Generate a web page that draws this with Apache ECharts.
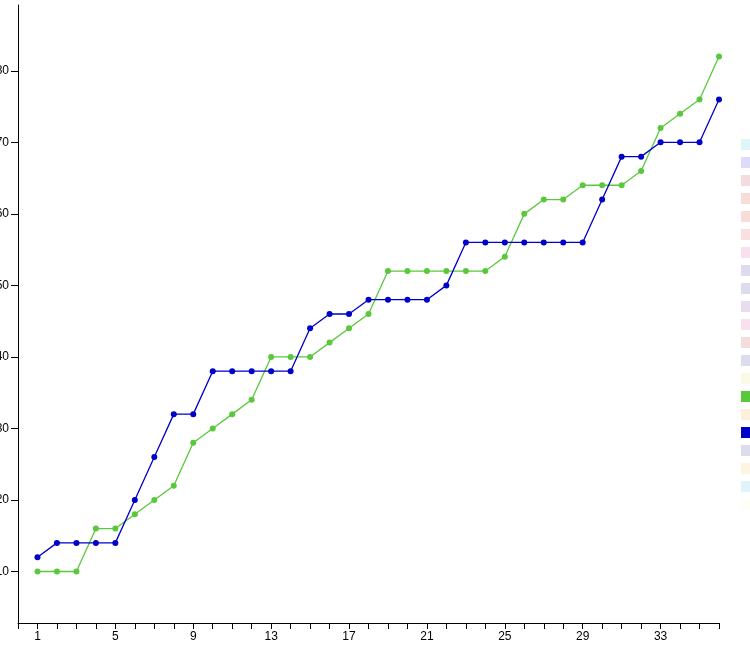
<!DOCTYPE html>
<html>
<head>
<meta charset="utf-8">
<script src="https://cdn.jsdelivr.net/npm/echarts@6/dist/echarts.min.js"></script>
<style>
html,body{margin:0;padding:0;background:#fff;}
#chart{width:750px;height:656px;}
</style>
</head>
<body>
<div id="chart"></div>
<script>
// Categories (x positions 1..36)
var categories = [1,2,3,4,5,6,7,8,9,10,11,12,13,14,15,16,17,18,19,20,21,22,23,24,25,26,27,28,29,30,31,32,33,34,35,36];
// Series values
var greenValues = [10,10,10,16,16,18,20,22,28,30,32,34,40,40,40,42,44,46,52,52,52,52,52,52,54,60,62,62,64,64,64,66,72,74,76,82];
var blueValues  = [12,14,14,14,14,20,26,32,32,38,38,38,38,38,44,46,46,48,48,48,48,50,56,56,56,56,56,56,56,62,68,68,70,70,70,76];
// Legend entries (labels fall outside the visible area)
var seriesNames = ["Series 1","Series 2","Series 3","Series 4","Series 5","Series 6","Series 7","Series 8","Series 9","Series 10","Series 11","Series 12","Series 13","Series 14","Series 15","Series 16","Series 17","Series 18","Series 19","Series 20","Series 21"];
var seriesColors = ["#dff5fa","#dcdcf8","#f2dce0","#f7dcd8","#f7dcd8","#f8e0e0","#f8e0ee","#dcdcec","#dcdcec","#e8dcef","#f8e0ee","#f2dcdc","#dcdcec","#fafae6","#5ac83c","#fcf0dc","#0000c8","#dcdcec","#fdf5e0","#e0f3fa","#fefdf6"];
var greenIndex = 14, blueIndex = 16;
// Axis ranges
var xMin = 0, xMax = 36;
var yMin = 2.8, yMax = 89.2;

var chart = echarts.init(document.getElementById('chart'), null, {renderer:'canvas'});
var labelFont = {fontFamily:'"Liberation Sans", Arial, sans-serif', fontSize:12, color:'#000'};

var series = seriesNames.map(function(name, i){
  var vals = null;
  if (i === greenIndex) vals = greenValues;
  if (i === blueIndex) vals = blueValues;
  return {
    name: name,
    type: 'line',
    data: vals ? categories.map(function(c, k){ return [c, vals[k]]; }) : [],
    symbol: 'circle',
    symbolSize: 6,
    itemStyle: {color: seriesColors[i]},
    lineStyle: {color: seriesColors[i], width: 1.3},
    z: i === blueIndex ? 3 : 2
  };
});

chart.setOption({
  animation: false,
  grid: {left: 18, right: 31, top: 5, bottom: 33, containLabel: false, outerBoundsMode: 'none'},
  legend: {
    orient: 'vertical',
    left: 741,
    top: 139,
    padding: 0,
    icon: 'rect',
    itemWidth: 11,
    itemHeight: 11,
    itemGap: 7,
    selectedMode: false,
    textStyle: {fontFamily: labelFont.fontFamily, fontSize: 11, color: '#000', lineHeight: 11},
    data: seriesNames
  },
  xAxis: {
    type: 'value',
    min: xMin,
    max: xMax,
    interval: 1,
    axisLine: {show: true, onZero: false, lineStyle: {color: '#000', width: 1}},
    axisTick: {show: true, length: 6, lineStyle: {color: '#000'}},
    splitLine: {show: false},
    axisLabel: Object.assign({
      margin: 8,
      formatter: function(v){ return (v >= 1 && (v - 1) % 4 === 0) ? String(v) : ''; }
    }, labelFont)
  },
  yAxis: {
    type: 'value',
    min: yMin,
    max: yMax,
    splitNumber: 8,
    axisLine: {show: true, lineStyle: {color: '#000', width: 1}},
    axisTick: {show: true, length: 7, lineStyle: {color: '#000'}},
    splitLine: {show: false},
    axisLabel: Object.assign({margin: 9, showMinLabel: false, showMaxLabel: false}, labelFont)
  },
  series: series
});
</script>
</body>
</html>
